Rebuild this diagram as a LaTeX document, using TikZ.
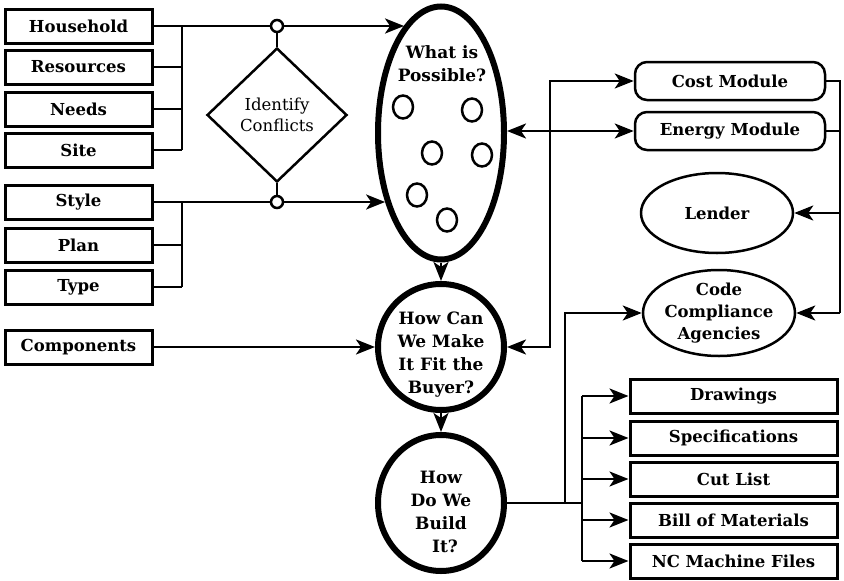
\documentclass[tikz,border=0pt]{standalone}
\usepackage{fontspec}
\setmainfont{DejaVu Serif}
\usetikzlibrary{shapes.geometric,arrows.meta}
\begin{document}
\begin{tikzpicture}[x=1pt,y=-1pt,
  every node/.style={font=\bfseries\fontsize{16.5}{22}\selectfont, inner sep=0pt},
  qfont/.style={font=\bfseries\fontsize{17}{23}\selectfont},
  lbox/.style={draw, line width=3pt, minimum width=147pt, minimum height=34pt},
  rbox/.style={draw, line width=3pt, minimum width=207pt, minimum height=34pt},
  mbox/.style={draw, line width=2.5pt, rounded corners=12pt, minimum width=190pt, minimum height=38pt},
  oval/.style={draw, ellipse, line width=2.5pt, align=center},
  big/.style={draw, ellipse, line width=6pt},
  dot/.style={draw, circle, line width=2.5pt, fill=white, minimum size=12pt},
  bub/.style={draw, ellipse, line width=2.5pt, minimum width=20pt, minimum height=23pt},
  conn/.style={line width=2.5pt},
  arr/.style={conn, -{Stealth[length=19pt,width=15pt,inset=5pt]}},
  darr/.style={conn, {Stealth[length=19pt,width=15pt,inset=5pt]}-{Stealth[length=19pt,width=15pt,inset=5pt]}},
]
\useasboundingbox (0,0) rectangle (844,581);
% left inputs
\node[lbox] (household) at (78.5,26) {Household};
\node[lbox] (resources) at (78.5,67) {Resources};
\node[lbox] (needs) at (78.5,109) {Needs};
\node[lbox] (site) at (78.5,150) {Site};
\node[lbox] (style) at (78.5,202) {Style};
\node[lbox] (plan) at (78.5,245) {Plan};
\node[lbox] (type) at (78.5,287) {Type};
\node[lbox] (components) at (78.5,347) {Components};
% conflicts
\node[draw, diamond, line width=2.5pt, minimum width=140pt, minimum height=134pt, align=center, font=\mdseries\fontsize{16.5}{21}\selectfont] (conflicts) at (277,115) {Identify\\Conflicts};
\node[dot] (hdot) at (277,26) {};
\node[dot] (sdot) at (277,202) {};
% central column
\node[big, minimum width=126pt, minimum height=253pt] (whatis) at (441,133) {};
\node[align=center, qfont] (whatlabel) at (442,64) {What is\\Possible?};
\node[bub] (b1) at (403,107) {};
\node[bub] (b2) at (472,110) {};
\node[bub] (b3) at (432,153) {};
\node[bub] (b4) at (482,155) {};
\node[bub] (b5) at (417,195) {};
\node[bub] (b6) at (447,220) {};
\node[big, minimum width=126pt, minimum height=126pt] (howcan) at (441,347) {};
\node[align=center, qfont] (howcantext) at (441,355) {How Can\\We Make\\It Fit the\\Buyer?};
\node[big, minimum width=126pt, minimum height=136pt] (howdo) at (441,503) {};
\node[align=center, qfont] (howdotext) at (441,512) {How\\Do We\\Build\\\hphantom{I}It?};
% right column
\node[mbox] (cost) at (730,81) {Cost Module};
\node[mbox] (energy) at (730,131) {Energy Module};
\node[oval, minimum width=152pt, minimum height=80pt] (lender) at (717,213) {Lender};
\node[oval, minimum width=152pt, minimum height=86pt, inner xsep=-8pt, inner ysep=-4pt] (code) at (719,313) {Code\\Compliance\\Agencies};
\node[rbox] (drawings) at (733.5,396) {Drawings};
\node[rbox] (specs) at (733.5,438) {Specifications};
\node[rbox] (cutlist) at (733.5,479) {Cut List};
\node[rbox] (bom) at (733.5,520) {Bill of Materials};
\node[rbox] (nc) at (733.5,561) {NC Machine Files};
% bus coordinates
\coordinate (lbus) at (182,0);
\coordinate (mbus) at (550,0);
\coordinate (cbus) at (565,0);
\coordinate (obus) at (582,0);
\coordinate (rbus) at (840,0);
% left connectors
\draw[conn] (household.east) -- (hdot.west);
\draw[arr] (hdot.east) -- (hdot.east -| whatis.109.4);
\draw[conn] (resources.east) -- (resources.east -| lbus);
\draw[conn] (needs.east) -- (needs.east -| lbus);
\draw[conn] (site.east) -- (site.east -| lbus);
\draw[conn] (household.east -| lbus) -- (site.east -| lbus);
\draw[conn] (conflicts.north) -- (hdot.south);
\draw[conn] (conflicts.south) -- (sdot.north);
\draw[conn] (style.east) -- (sdot.west);
\draw[arr] (sdot.east) -- (sdot.east -| whatis.231);
\draw[conn] (plan.east) -- (plan.east -| lbus);
\draw[conn] (type.east) -- (type.east -| lbus);
\draw[conn] (style.east -| lbus) -- (type.east -| lbus);
\draw[arr] (components.east) -- (howcan.west);
% central connectors
\draw[arr] (whatis.south) -- (howcan.north);
\draw[arr] (howcan.south) -- (howdo.north);
\draw[darr] (energy.west -| whatis.east) -- (energy.west);
\draw[darr] (howcan.east) -- (howcan.east -| mbus) |- (cost.west);
% right connectors
\draw[conn] (cost.east) -- (cost.east -| rbus) -- (code.east -| rbus);
\draw[conn] (energy.east) -- (energy.east -| rbus);
\draw[arr] (lender.east -| rbus) -- (lender.east);
\draw[arr] (code.east -| rbus) -- (code.east);
% outputs
\draw[conn] (howdo.east) -- (howdo.east -| obus);
\draw[arr] (howdo.east -| cbus) |- (code.west);
\draw[conn] (drawings.west -| obus) -- (nc.west -| obus);
\draw[arr] (drawings.west -| obus) -- (drawings.west);
\draw[arr] (specs.west -| obus) -- (specs.west);
\draw[arr] (cutlist.west -| obus) -- (cutlist.west);
\draw[arr] (bom.west -| obus) -- (bom.west);
\draw[arr] (nc.west -| obus) -- (nc.west);
\end{tikzpicture}
\end{document}
